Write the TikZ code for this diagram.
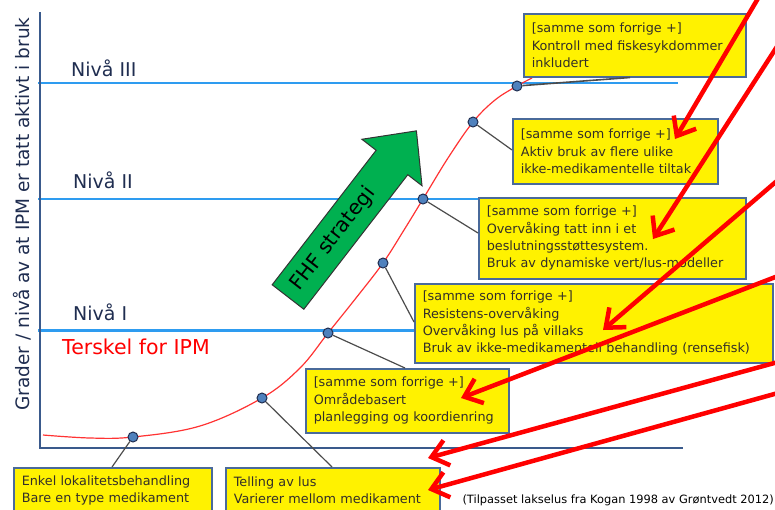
\documentclass[tikz,border=0pt]{standalone}
\usepackage{fontspec}
\setmainfont{DejaVu Sans}
\usetikzlibrary{arrows.meta}
\definecolor{axisblue}{HTML}{3A5A8C}
\definecolor{nivblue}{HTML}{2E9CF0}
\definecolor{navy}{HTML}{1F2D50}
\definecolor{boxedge}{HTML}{4A6A9A}
\definecolor{dotfill}{HTML}{4F81BD}
\definecolor{ggreen}{HTML}{00B050}
\begin{document}
\begin{tikzpicture}[x=1pt,y=-1pt,
  ybox/.style={draw=boxedge, line width=1.5pt, fill=yellow, anchor=north west, inner xsep=8pt, inner ysep=0pt, align=left, font=\fontsize{12.8}{17.3}\selectfont, text=black!85!olive},
  dotn/.style={circle, draw=navy, fill=dotfill, line width=1pt, minimum size=10pt, inner sep=0pt},
  conn/.style={draw=black!70, line width=1.2pt},
  redarr/.style={draw=red, line width=4.5pt, -{Straight Barb[length=16pt,width=26pt]}},
  nivline/.style={draw=nivblue, line width=1.5pt},
  nivlab/.style={text=navy, font=\fontsize{19}{22}\selectfont, anchor=west, inner sep=0pt}
]
\useasboundingbox (0,0) rectangle (775,509);

% level lines
\draw[nivline] (38,83) -- (678,83);
\draw[nivline] (38,199) -- (680,199);
\draw[nivline, line width=3pt] (38,330) -- (700,330);

% axes
\draw[axisblue, line width=2pt] (40,12) -- (40,448) -- (683,448);

% labels
\node[nivlab] (n3) at (71,68) {Nivå III};
\node[nivlab] (n2) at (73,180) {Nivå II};
\node[nivlab] (n1) at (73,312) {Nivå I};
\node[anchor=west, inner sep=0pt, text=red, font=\fontsize{20.5}{22}\selectfont] (tk) at (62,347) {Terskel for IPM};
\node[rotate=90, inner sep=0pt, text=navy, font=\fontsize{18.5}{20}\selectfont] (yl) at (22,214) {Grader / nivå av at IPM er tatt aktivt i bruk};

% curve
\draw[red!80!white, line width=1.2pt] plot[smooth, tension=0.6] coordinates {(43,435) (90,438) (133,437) (200,426) (262,398) (300,368) (328,333) (356,298) (383,263) (404,230) (423,199) (448,158) (473,122) (495,100) (517,86) (532,78)};

% boxes
\node[ybox, minimum width=198pt, minimum height=45pt, text width=182pt] (b1) at (13,467) {Enkel lokalitetsbehandling\\Bare en type medikament};
\node[ybox, minimum width=214pt, minimum height=45pt, text width=198pt] (b2) at (225,467) {Telling av lus\\Varierer mellom medikament};
\node[ybox, minimum width=203pt, minimum height=64pt, text width=187pt] (b3) at (305,368) {[samme som forrige +]\\Områdebasert\\planlegging og koordienring};
\node[ybox, minimum width=358pt, minimum height=79pt, text width=342pt] (b4) at (414,283) {[samme som forrige +]\\Resistens-overvåking\\Overvåking lus på villaks\\Bruk av ikke-medikamentell behandling (rensefisk)};
\node[ybox, minimum width=267pt, minimum height=81pt, text width=251pt] (b5) at (478,197) {[samme som forrige +]\\Overvåking tatt inn i et\\beslutningsstøttesystem.\\Bruk av dynamiske vert/lus-modeller};
\node[ybox, minimum width=205pt, minimum height=65pt, text width=189pt] (b6) at (512,118) {[samme som forrige +]\\Aktiv bruk av flere ulike\\ikke-medikamentelle tiltak};
\node[ybox, minimum width=222pt, minimum height=63pt, text width=206pt] (b7) at (523,13) {[samme som forrige +]\\Kontroll med fiskesykdommer\\inkludert};

% dots
\node[dotn] (d1) at (133,437) {};
\node[dotn] (d2) at (262,398) {};
\node[dotn] (d3) at (328,333) {};
\node[dotn] (d4) at (383,263) {};
\node[dotn] (d5) at (423,199) {};
\node[dotn] (d6) at (473,122) {};
\node[dotn] (d7) at (517,86) {};

% connectors
\draw[conn] (d1) -- ([xshift=99pt]b1.north west);
\draw[conn] (d2) -- ([xshift=107pt]b2.north west);
\draw[conn] (d3) -- ([xshift=100pt]b3.north west);
\draw[conn] (d4) -- ([yshift=-39pt]b4.north west);
\draw[conn] (d5) -- ([yshift=-36pt]b5.north west);
\draw[conn] (d6) -- ([yshift=-32pt]b6.north west);
\draw[conn, line width=1.6pt] (d7) -- ([xshift=107pt]b7.south west);

% green arrow
\begin{scope}[shift={(288,297)}, rotate=52.3]
\draw[fill=ggreen, draw=black!80, line width=1pt] (0,20) -- (170,20) -- (170,38) -- (210,0) -- (170,-38) -- (170,-20) -- (0,-20) -- cycle;
\end{scope}
\node[rotate=52.3, inner sep=0pt, font=\fontsize{20.5}{24}\selectfont] (fhf) at (333,239) {FHF strategi};

% caption
\node[anchor=east, inner sep=0pt, font=\fontsize{11.4}{12}\selectfont] (cap) at (774,500) {(Tilpasset lakselus fra Kogan 1998 av Grøntvedt 2012)};

% red arrows
\coordinate (r1s) at (760,-5);  \coordinate (r1e) at (675,139);
\coordinate (r2s) at (778,45);  \coordinate (r2e) at (653,239);
\coordinate (r3s) at (778,180); \coordinate (r3e) at (603,330);
\coordinate (r4s) at (778,276); \coordinate (r4e) at (461,398);
\coordinate (r5s) at (778,362); \coordinate (r5e) at (428,458);
\coordinate (r6s) at (778,393); \coordinate (r6e) at (428,490);
\foreach \i in {1,...,6} {\draw[redarr] (r\i s) -- (r\i e);}
\end{tikzpicture}
\end{document}
